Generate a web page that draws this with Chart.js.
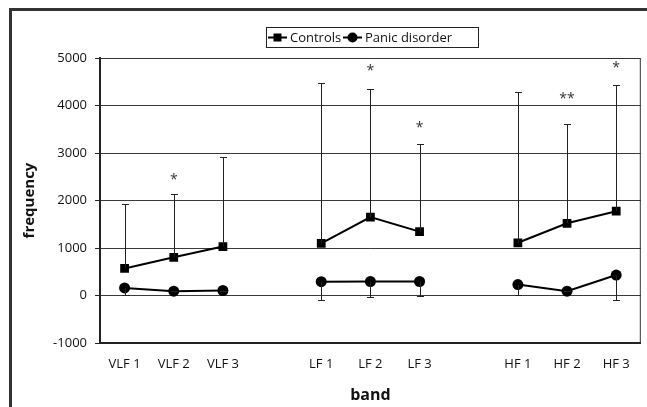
<!DOCTYPE html>
<html>
<head>
<meta charset="utf-8">
<script src="https://cdn.jsdelivr.net/npm/chart.js@4.4.1/dist/chart.umd.min.js"></script>
<style>
  html, body { margin: 0; padding: 0; background: #fff; }
  #wrap { width: 647px; height: 407px; position: relative; }
</style>
</head>
<body>
<div id="wrap"><canvas id="bandChart" width="647" height="407"></canvas></div>
<script>
// categories (empty slots keep the groups apart)
const BANDS = ['VLF 1', 'VLF 2', 'VLF 3', '', 'LF 1', 'LF 2', 'LF 3', '', 'HF 1', 'HF 2', 'HF 3'];

// means
const controls = [570, 805, 1030, null, 1095, 1650, 1345, null, 1110, 1520, 1775];
const panic = [160, 90, 105, null, 290, 295, 295, null, 230, 90, 430];

// error bar ends (controls go up, panic goes down)
const controlsUpper = [1930, 2135, 2910, null, 4475, 4345, 3180, null, 4275, 3605, 4430];
const panicLower = [5, 90, 105, null, -85, -25, 0, null, 20, 90, -90];

// significance marks
const sigMarks = ['', '*', '', '', '', '*', '*', '', '', '**', '*'];
const sigLevels = [null, 2490, null, null, null, 4780, 3585, null, null, 4195, 4850];

const Y_TICKS = [-1000, 0, 1000, 2000, 3000, 4000, 5000];

const FONT = '"Open Sans", "Noto Sans", sans-serif';

// outer frame, plot frame, error bars, stars and legend
const extras = {
    id: 'extras',
    beforeDraw(chart) {
        const ctx = chart.ctx;
        ctx.save();
        ctx.strokeStyle = '#333';
        ctx.lineWidth = 3;
        ctx.strokeRect(10.5, 9.5, 660, 420);
        ctx.restore();
    },
    afterDatasetsDraw(chart) {
        const ctx = chart.ctx;
        const x = chart.scales.x;
        const y = chart.scales.y;
        const area = chart.chartArea;

        ctx.save();
        // top + right edges of plot
        ctx.strokeStyle = '#333';
        ctx.lineWidth = 1;
        ctx.beginPath();
        ctx.moveTo(area.left, area.top + 0.5);
        ctx.lineTo(area.right - 0.5, area.top + 0.5);
        ctx.lineTo(area.right - 0.5, area.bottom);
        ctx.stroke();

        // error bars
        const drawBar = (i, from, to) => {
            if (from == null || to == null) return;
            const px = Math.round(x.getPixelForValue(i)) + 0.5;
            const y0 = y.getPixelForValue(from);
            const y1 = Math.round(y.getPixelForValue(to)) + 0.5;
            ctx.beginPath();
            ctx.moveTo(px, y0);
            ctx.lineTo(px, y1);
            ctx.moveTo(px - 3.5, y1);
            ctx.lineTo(px + 3.5, y1);
            ctx.stroke();
        };
        ctx.strokeStyle = '#222';
        BANDS.forEach((b, i) => {
            drawBar(i, controls[i], controlsUpper[i]);
            drawBar(i, panic[i], panicLower[i]);
        });

        // stars
        ctx.fillStyle = '#333';
        ctx.font = '14px ' + FONT;
        ctx.textAlign = 'center';
        ctx.textBaseline = 'middle';
        sigMarks.forEach((m, i) => {
            if (!m) return;
            ctx.fillText(m, x.getPixelForValue(i), y.getPixelForValue(sigLevels[i]) + 3);
        });
        ctx.restore();
    },
    afterDraw(chart) {
        const ctx = chart.ctx;
        ctx.save();
        // legend box
        ctx.strokeStyle = '#222';
        ctx.lineWidth = 1;
        ctx.strokeRect(266.5, 27.5, 212, 20);
        ctx.font = '13px ' + FONT;
        ctx.fillStyle = '#111';
        ctx.textBaseline = 'middle';
        const cy = 37.5;
        const items = [
            { x: 268, label: 'Controls', style: 'rect' },
            { x: 343, label: 'Panic disorder', style: 'circle' }
        ];
        items.forEach(it => {
            ctx.strokeStyle = '#000';
            ctx.lineWidth = 2;
            ctx.beginPath();
            ctx.moveTo(it.x, cy);
            ctx.lineTo(it.x + 19, cy);
            ctx.stroke();
            ctx.fillStyle = '#000';
            if (it.style === 'rect') {
                ctx.fillRect(it.x + 5.5, cy - 4, 8, 8);
            } else {
                ctx.beginPath();
                ctx.arc(it.x + 9.5, cy, 5, 0, Math.PI * 2);
                ctx.fill();
            }
            ctx.fillStyle = '#111';
            ctx.fillText(it.label, it.x + 22, cy + 0.5);
        });
        ctx.restore();
    }
};

const ctx = document.getElementById('bandChart').getContext('2d');
const bandChart = new Chart(ctx, {
    type: 'line',
    data: {
        labels: BANDS,
        datasets: [
            {
                label: 'Controls',
                data: controls,
                borderColor: '#000',
                backgroundColor: '#000',
                borderWidth: 2,
                pointStyle: 'rect',
                pointRadius: 6.2,
                pointBorderWidth: 0,
                spanGaps: false,
                tension: 0
            },
            {
                label: 'Panic disorder',
                data: panic,
                borderColor: '#000',
                backgroundColor: '#000',
                borderWidth: 2,
                pointStyle: 'circle',
                pointRadius: 5.5,
                pointBorderWidth: 0,
                spanGaps: false,
                tension: 0
            }
        ]
    },
    options: {
        responsive: false,
        animation: false,
        events: [],
        layout: { padding: { top: 58, right: 4, left: 0, bottom: 0 } },
        plugins: {
            legend: { display: false },
            tooltip: { enabled: false }
        },
        scales: {
            x: {
                type: 'category',
                offset: true,
                grid: { color: 'transparent', drawTicks: false },
                border: { display: true, color: '#222', width: 2 },
                ticks: {
                    color: '#111',
                    font: { family: FONT, size: 13 },
                    padding: 13,
                    maxRotation: 0,
                    autoSkip: false
                },
                title: {
                    display: true,
                    text: 'band',
                    color: '#111',
                    font: { family: FONT, size: 16, weight: 'bold' },
                    padding: { top: 0, bottom: 2 }
                },
                afterFit(scale) { scale.height = 64; }
            },
            y: {
                min: -1000,
                max: 5000,
                afterBuildTicks(scale) { scale.ticks = Y_TICKS.map(v => ({ value: v })); },
                grid: {
                    color: '#3a3a3a',
                    lineWidth: 1,
                    tickLength: 5,
                    tickColor: '#222'
                },
                border: { display: true, color: '#222', width: 2 },
                ticks: {
                    color: '#111',
                    font: { family: FONT, size: 13 },
                    padding: 8,
                    callback: (v) => String(v)
                },
                title: {
                    display: true,
                    text: 'frequency',
                    color: '#111',
                    font: { family: FONT, size: 15, weight: 'bold' },
                    padding: { top: 21, bottom: 0 }
                },
                afterFit(scale) { scale.width = 100; }
            }
        }
    },
    plugins: [extras]
});
</script>
</body>
</html>
